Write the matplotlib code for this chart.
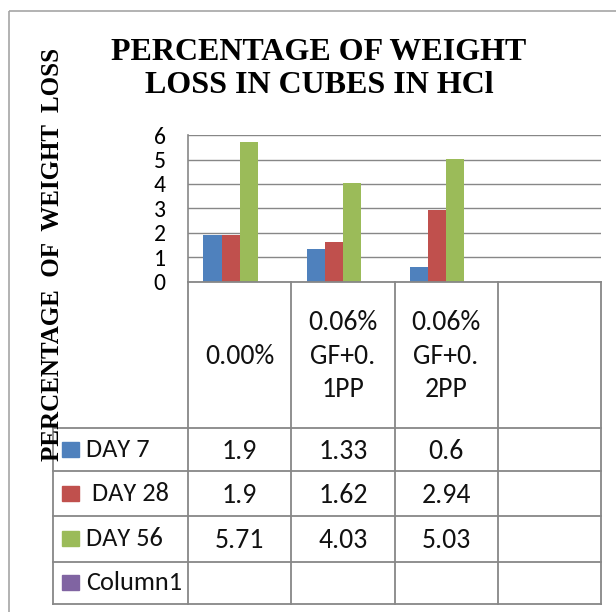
import numpy as np
import matplotlib
matplotlib.use('Agg')
import matplotlib.pyplot as plt
from matplotlib.patches import Rectangle

# ---- data
categories = ['0.00%', '0.06%\nGF+0.\n1PP', '0.06%\nGF+0.\n2PP', '']
series = ['DAY 7', ' DAY 28', 'DAY 56', 'Column1']
day7 = [1.9, 1.33, 0.6, np.nan]
day28 = [1.9, 1.62, 2.94, np.nan]
day56 = [5.71, 4.03, 5.03, np.nan]
column1 = [np.nan, np.nan, np.nan, np.nan]
values = [day7, day28, day56, column1]
colors = ['#4F81BD', '#C0504D', '#9BBB59', '#8064A2']
yticks = [0, 1, 2, 3, 4, 5, 6]

title = 'PERCENTAGE OF WEIGHT\nLOSS IN CUBES IN HCl'
ylabel = 'PERCENTAGE  OF  WEIGHT  LOSS'

W, H = 616, 612
sans = ['Carlito', 'Liberation Sans']
serif = ['Liberation Serif', 'DejaVu Serif']
line_c = '#878787'

fig = plt.figure(figsize=(W / 100, H / 100), dpi=100)

# ---- layout (pixels)
px_l, px_r, px_t, px_b = 188, 601, 135, 282
row_y = [428, 471, 516, 562, 604]
tbl_left = 53


def fx(x):
    return x / W


def fy(y):
    return 1 - y / H


# ---- barras
ax = fig.add_axes([fx(px_l), fy(px_b), fx(px_r - px_l), fy(px_t) - fy(px_b)])
n_cat = len(categories)
x = np.arange(n_cat)
bw = 0.175
for i, (vals, c) in enumerate(zip(values, colors)):
    ax.bar(x + (i - 1.5) * bw, vals, width=bw, color=c,
           linewidth=0, zorder=3)
ax.set_xlim(-0.5, n_cat - 0.5)
ax.set_ylim(0, 6)
ax.set_yticks(yticks)
ax.set_yticklabels([str(t) for t in yticks], family=sans, fontsize=17)
ax.set_xticks([])
ax.tick_params(axis='y', length=0, pad=16)
ax.yaxis.grid(True, color=line_c, linewidth=1.0, zorder=0)
for s in ['top', 'right', 'bottom']:
    ax.spines[s].set_visible(False)
ax.spines['left'].set_color(line_c)
ax.spines['left'].set_linewidth(1.2)
ax.set_axisbelow(True)

# ---- overlay en pixeles: tabla, titulo, marco
ov = fig.add_axes([0, 0, 1, 1])
ov.set_xlim(0, W)
ov.set_ylim(H, 0)
ov.axis('off')

ov.add_patch(Rectangle((9, 11), W, H, fill=False, edgecolor='#a6a6a6',
                       linewidth=1.2))

cw = (px_r - px_l) / n_cat
bounds = [px_l + k * cw for k in range(n_cat + 1)]
lw = 1.3
ov.plot([px_l, px_r], [px_b, px_b], color=line_c, lw=lw)
for y in row_y:
    ov.plot([tbl_left, px_r], [y, y], color=line_c, lw=lw)
ov.plot([tbl_left, tbl_left], [row_y[0], row_y[-1]], color=line_c, lw=lw)
for b in bounds:
    ov.plot([b, b], [px_b, row_y[-1]], color=line_c, lw=lw)

# header (categorias)
for k, lab in enumerate(categories):
    ov.text((bounds[k] + bounds[k + 1]) / 2, (px_b + row_y[0]) / 2 + 1, lab,
            ha='center', va='center', family=sans, fontsize=20,
            linespacing=1.42, color='#111111')

# filas de series
for r, (name, vals, c) in enumerate(zip(series, values, colors)):
    yc = (row_y[r] + row_y[r + 1]) / 2
    ov.add_patch(Rectangle((62, yc - 8), 17, 15, color=c))
    ov.text(86, yc, name, ha='left', va='center', family=sans, fontsize=19,
            color='#111111')
    for k, v in enumerate(vals):
        if np.isnan(v):
            continue
        ov.text((bounds[k] + bounds[k + 1]) / 2, yc + 2, f'{v:g}',
                ha='center', va='center', family=sans, fontsize=20,
                color='#111111')

# titulo + etiqueta y
ov.text(319, 69, title, ha='center', va='center', family=serif,
        fontweight='bold', fontsize=23, linespacing=1.2)
ov.text(53, 254, ylabel, ha='center', va='center', rotation=90,
        family=serif, fontweight='bold', fontsize=18)

fig.savefig('out.png', dpi=100)
